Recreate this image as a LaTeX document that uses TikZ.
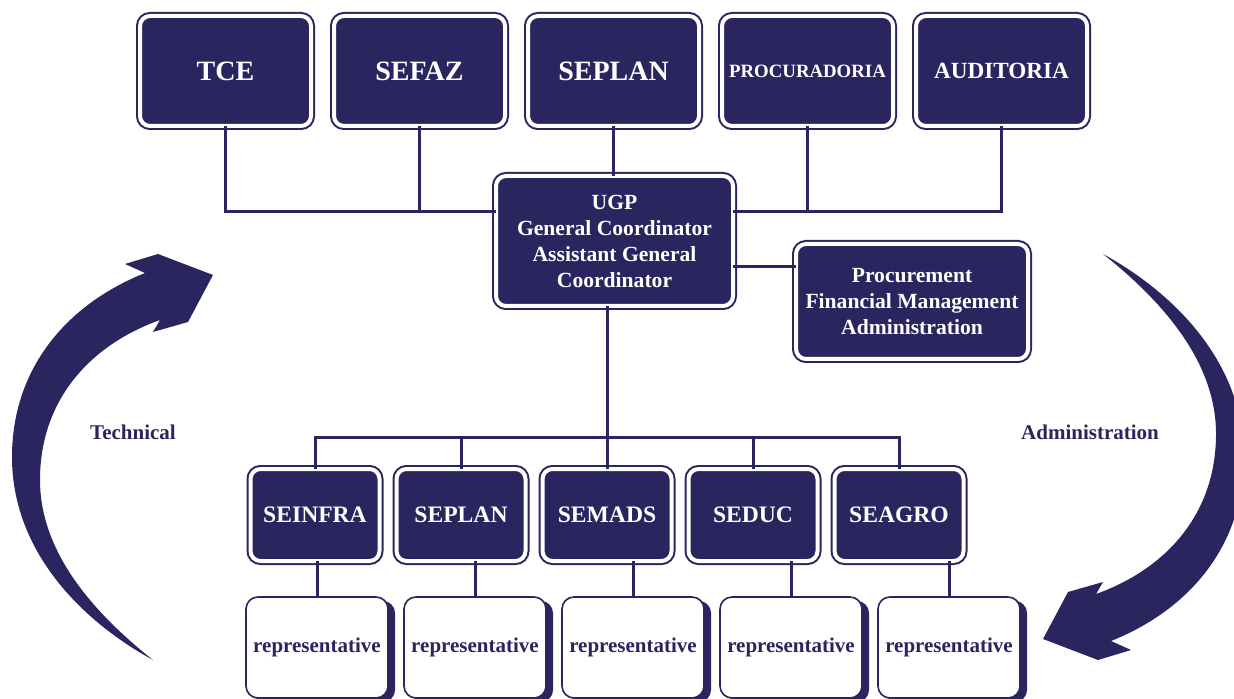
\documentclass[tikz,border=0pt]{standalone}
\usepackage{fontspec}
\setmainfont{Liberation Serif}
\usetikzlibrary{positioning}
\usetikzlibrary{shadows}

\definecolor{navy}{RGB}{42,37,94}

\begin{document}
\begin{tikzpicture}[x=0.5pt,y=-0.5pt,
	unit/.style={rectangle,rounded corners=5pt,draw=navy,line width=1pt,
		double=white,double distance=2pt,fill=navy,text=white,align=center,
		inner sep=0pt,outer sep=0pt},
	topbox/.style={unit,minimum width=85.5pt,minimum height=55pt,
		font=\bfseries\fontsize{14}{16}\selectfont},
	secbox/.style={unit,minimum width=64.5pt,minimum height=46pt,
		font=\bfseries\fontsize{11.8}{14}\selectfont},
	repbox/.style={rectangle,rounded corners=6pt,draw=navy,line width=0.8pt,
		fill=white,text=navy,minimum width=71pt,minimum height=50.5pt,
		inner sep=0pt,outer sep=0pt,font=\bfseries\fontsize{10.5}{12}\selectfont,
		drop shadow={shadow xshift=3.5pt,shadow yshift=-2pt,fill=navy,opacity=1}},
	wire/.style={draw=navy,line width=1.5pt},
	side/.style={text=navy,font=\bfseries\fontsize{10.5}{12}\selectfont},
	bigarrow/.pic={
		\fill[navy] (145,273) -- (125,264) -- (158,254) -- (213,275) -- (188,322)
			-- (153,332) -- (160,320)
			.. controls (90,345) and (40,400) .. (40,480)
			.. controls (40,550) and (90,610) .. (153,660)
			.. controls (80,620) and (12,550) .. (12,457)
			.. controls (12,370) and (65,305) .. (145,273) -- cycle;
	}]

	\useasboundingbox (0,0) rectangle (1234,699);

	% curved arrows
	\pic at (0,0) {bigarrow};
	\pic[rotate=180] at (1256,914) {bigarrow};
	\node[side] (tech) at (133,432) {Technical};
	\node[side] (admin) at (1090,432) {Administration};

	% top row
	\node[topbox] (tce) at (225.5,71) {TCE};
	\node[topbox, right=11.5pt of tce] (sefaz) {SEFAZ};
	\node[topbox, right=11.5pt of sefaz] (seplan) {SEPLAN};
	\node[topbox, right=11.5pt of seplan, font=\bfseries\fontsize{9.4}{11}\selectfont] (procur) {PROCURADORIA};
	\node[topbox, right=11.5pt of procur, font=\bfseries\fontsize{11.6}{14}\selectfont] (audit) {AUDITORIA};

	% coordination
	\node[unit, minimum width=118.5pt, minimum height=65pt,
		font=\bfseries\fontsize{10.8}{13}\selectfont] (ugp) at (614.5,241)
		{UGP\\General Coordinator\\Assistant General\\Coordinator};
	\node[unit, minimum width=116pt, minimum height=57.5pt,
		font=\bfseries\fontsize{10.8}{13}\selectfont] (proc) at (912,301.5)
		{Procurement\\Financial Management\\Administration};

	% secretariats
	\node[secbox] (seinfra) at (315,515) {SEINFRA};
	\node[secbox, right=8.5pt of seinfra] (seplanb) {SEPLAN};
	\node[secbox, right=8.5pt of seplanb] (semads) {SEMADS};
	\node[secbox, right=8.5pt of semads] (seduc) {SEDUC};
	\node[secbox, right=8.5pt of seduc] (seagro) {SEAGRO};

	% representatives
	\node[repbox] (rep1) at (317,647.5) {representative};
	\node[repbox, right=8pt of rep1] (rep2) {representative};
	\node[repbox, right=8pt of rep2] (rep3) {representative};
	\node[repbox, right=8pt of rep3] (rep4) {representative};
	\node[repbox, right=8pt of rep4] (rep5) {representative};

	\coordinate (topbus) at (0,212);
	\coordinate (lowbus) at (0,437);

	% connectors
	\draw[wire] (tce.south) -- (tce.south |- topbus) -- (ugp.west |- topbus);
	\draw[wire] (sefaz.south) -- (sefaz.south |- topbus);
	\draw[wire] (seplan.south) -- (seplan.south |- ugp.north);
	\draw[wire] (audit.south) -- (audit.south |- topbus) -- (ugp.east |- topbus);
	\draw[wire] (procur.south) -- (procur.south |- topbus);
	\draw[wire] ([yshift=-13pt]ugp.east) -- ([yshift=-13pt]ugp.east -| proc.west);
	\draw[wire] (semads.north |- ugp.south) -- (semads.north);
	\draw[wire] (seinfra.north) -- (seinfra.north |- lowbus) -- (seagro.north |- lowbus) -- (seagro.north);
	\foreach \s in {seplanb,seduc}
		\draw[wire] (\s.north) -- (\s.north |- lowbus);
	\foreach \s/\r in {seinfra/rep1,seplanb/rep2,semads/rep3,seduc/rep4,seagro/rep5}
		\draw[wire] (\r.north) -- (\r.north |- \s.south);
\end{tikzpicture}
\end{document}
